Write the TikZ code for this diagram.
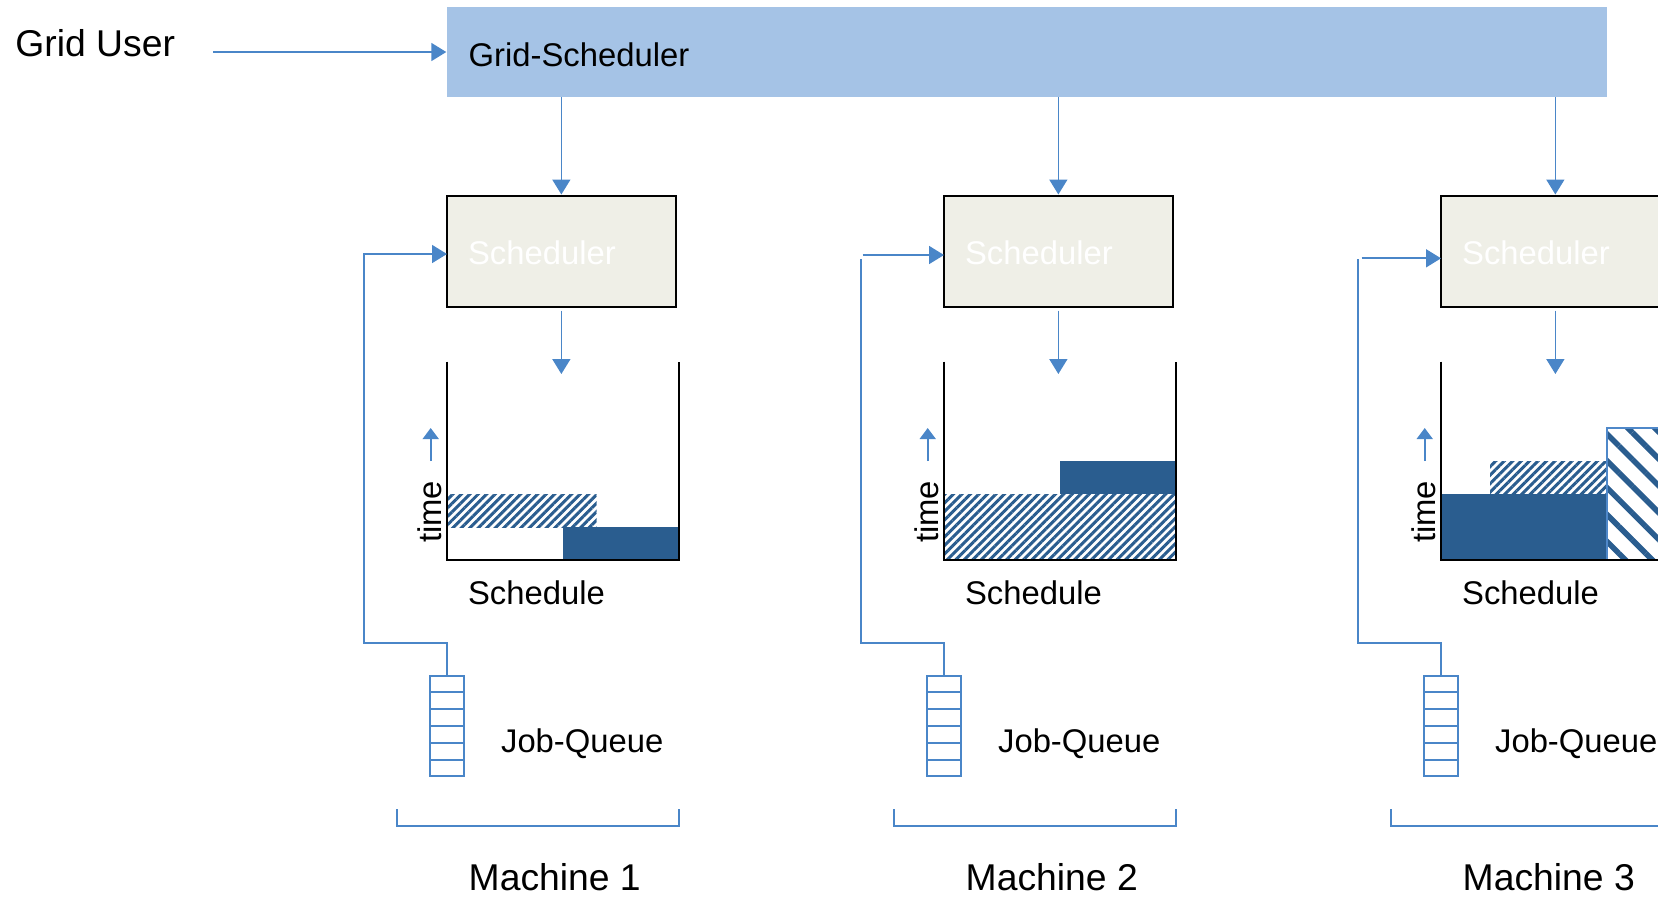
\documentclass[tikz,border=0pt]{standalone}
\usepackage{fontspec}
\setmainfont{Liberation Sans}
\usetikzlibrary{arrows.meta,patterns.meta,calc}
\definecolor{arrowblue}{HTML}{4A86C8}
\definecolor{gridfill}{HTML}{A5C3E6}
\definecolor{schedfill}{HTML}{EFEFE7}
\definecolor{jobblue}{HTML}{2A5D8F}
\definecolor{hatchborder}{HTML}{4F88C9}
\begin{document}
\begin{tikzpicture}[x=0.5pt,y=-0.5pt,
  conn/.style={draw=arrowblue, line width=0.85pt},
  arr/.style={conn, -{Triangle[length=7.5pt,width=9pt]}},
  smallarr/.style={conn, -{Triangle[length=5.5pt,width=8pt]}},
  txt/.style={font=\fontsize{16.4pt}{19pt}\selectfont, inner sep=0pt, anchor=base west},
  bigtxt/.style={font=\fontsize{18.65pt}{22pt}\selectfont, inner sep=0pt, anchor=base west},
  schedbox/.style={draw=black, line width=1.2pt, fill=schedfill, minimum width=114.35pt, minimum height=55.5pt, inner sep=0pt},
  gridbox/.style={fill=gridfill, minimum width=580pt, minimum height=44.7pt, inner sep=0pt},
  queuebox/.style={draw=arrowblue, line width=0.95pt, minimum width=17pt, minimum height=49.7pt, inner sep=0pt},
  finehatch/.style={pattern={Lines[angle=45,distance=3pt,line width=1.5pt]}, pattern color=jobblue},
  widehatch/.style={pattern={Lines[angle=-45,distance=9.5pt,line width=2.8pt]}, pattern color=jobblue},
  solidjob/.style={fill=jobblue},
  binline/.style={draw=black, line width=1pt},
]
\path[use as bounding box] (0,0) rectangle (1658,896);
\clip (0,0) rectangle (1658,896);

% top
\node[bigtxt] (gu) at (15,56.7) {Grid User};
\node[gridbox] (gs) at (1026.7,52) {};
\node[txt] (gstext) at (468.3,66) {Grid-Scheduler};
\coordinate (gustart) at (213.3,52);
\draw[arr] (gustart) -- (gs.west);

% job fills
% machine 1 (L=447)
\path[finehatch] (447,494) rectangle (596.7,527);
\path[solidjob] (562.7,527) rectangle (679.3,560);
% machine 2 (L=944)
\path[finehatch] (944,494) rectangle (1176.3,560);
\path[solidjob] (1060,461) rectangle (1176.3,494);
% machine 3 (L=1441)
\path[solidjob] (1441,494) rectangle (1606.7,560);
\path[finehatch] (1490,461) rectangle (1606.7,494);
\path[widehatch, draw=hatchborder, line width=1pt] (1606.7,428) rectangle (1700,560);

\foreach \i/\ay/\ax/\vt in {1/254/-83/254, 2/255/-81.3/260, 3/258.3/-79.3/260}{
  \pgfmathsetmacro{\L}{447+497*(\i-1)}
  % scheduler
  \node[schedbox] (sched\i) at (\L+114.35,251.2) {};
  \node[txt, text=white] (schedtext\i) at (\L+20.7,264.3) {Scheduler};
  \draw[arr] (sched\i.north |- gs.south) -- (sched\i.north);
  % schedule bin
  \coordinate (binin\i) at (\L+114.35,374);
  \draw[arr] ([yshift=-1.3pt]sched\i.south) -- (binin\i);
  \draw[binline] (\L,361.7) -- (\L,560) -- (\L+232.3,560) -- (\L+232.3,361.7);
  \coordinate (tb\i) at (\L-16.3,461);
  \coordinate (tt\i) at (\L-16.3,428);
  \draw[smallarr] (tb\i) -- (tt\i);
  \node[txt, rotate=90] (time\i) at (\L-5.3,543.3) {time};
  \node[txt] (schedule\i) at (\L+20.7,604.3) {Schedule};
  % queue
  \node[queuebox] (queue\i) at (\L+0.3,726) {};
  \foreach \k in {1,...,5}{
    \draw[conn, line width=0.95pt] ($(queue\i.north west)!\k/6!(queue\i.south west)$) -- ($(queue\i.north east)!\k/6!(queue\i.south east)$);
  }
  \node[txt] (jq\i) at (\L+53.7,752.7) {Job-Queue};
  % feedback
  \coordinate (fbl\i) at (\L-83,643);
  \coordinate (fbt\i) at (\L-83,\vt);
  \coordinate (fbs\i) at (\L+\ax,\ay);
  \coordinate (fbe\i) at (\L,\ay);
  \draw[conn, line cap=rect] (queue\i.north) |- (fbl\i) -- (fbt\i);
  \draw[arr] (fbs\i) -- (fbe\i);
  % bracket
  \draw[conn] (\L-50,809.3) -- (\L-50,825.7) -- (\L+232.3,825.7) -- (\L+232.3,809.3);
  \node[bigtxt] (mach\i) at (\L+21.3,890) {Machine \i};
}
\end{tikzpicture}
\end{document}
